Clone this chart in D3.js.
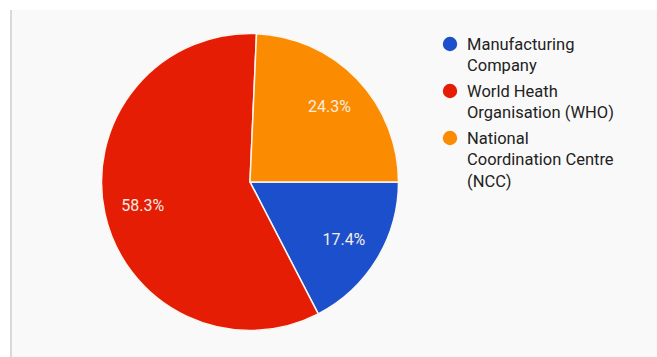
<!DOCTYPE html>
<html>
<head>
<meta charset="utf-8">
<script src="https://cdn.jsdelivr.net/npm/d3@7"></script>
<style>
  html, body { margin: 0; padding: 0; background: #ffffff; }
  svg { display: block; font-family: Roboto, "Noto Sans", Arial, sans-serif; }
</style>
</head>
<body>
<svg id="chart" width="657" height="357"></svg>
<script>
// Share of responsibility by organisation (percent)
const categories = [
  ["Manufacturing", "Company"],
  ["World Heath", "Organisation (WHO)"],
  ["National", "Coordination Centre", "(NCC)"]
];
const values = [17.4, 58.3, 24.3];
const colors = ["#1b4fcb", "#e41d04", "#fb8b00"];

const W = 657, H = 357;
const svg = d3.select("#chart");

// panel background with a thin left rule
svg.append("rect").attr("x", 11).attr("y", 10).attr("width", W - 11).attr("height", H - 10)
  .attr("fill", "#f9f9f9");
svg.append("rect").attr("x", 10).attr("y", 10).attr("width", 2).attr("height", H - 10)
  .attr("fill", "#d9d9d9");

const cx = 250, cy = 182, r = 148.5;
const g = svg.append("g").attr("transform", `translate(${cx},${cy})`);

// slices start at 3 o'clock and run clockwise in data order
const pie = d3.pie().sort(null).value(d => d)
  .startAngle(Math.PI / 2).endAngle(Math.PI / 2 + 2 * Math.PI);
const arcs = pie(values);

const arc = d3.arc().innerRadius(0).outerRadius(r);
const labelArc = d3.arc().innerRadius(r * 0.74).outerRadius(r * 0.74);

g.selectAll("path.slice").data(arcs).join("path")
  .attr("class", "slice")
  .attr("d", arc)
  .attr("fill", (d, i) => colors[i])
  .attr("stroke", "#fbf6ee")
  .attr("stroke-width", 1.5);

g.selectAll("text.pct").data(arcs).join("text")
  .attr("class", "pct")
  .attr("transform", d => `translate(${labelArc.centroid(d)})`)
  .attr("text-anchor", "middle")
  .attr("dy", "0.36em")
  .attr("font-size", 16)
  .attr("fill", "#f7ece0")
  .text(d => d.value.toFixed(1) + "%");

// legend
const legendX = 450, lineH = 21.3;
const groupTops = [44, 91, 138];
const legend = svg.append("g");
categories.forEach((lines, i) => {
  const y = groupTops[i];
  legend.append("circle").attr("cx", legendX).attr("cy", y).attr("r", 7.2)
    .attr("fill", colors[i]);
  const t = legend.append("text")
    .attr("x", legendX + 17)
    .attr("y", y + 6)
    .attr("font-size", 16.5)
    .attr("fill", "#222222");
  lines.forEach((ln, j) => {
    t.append("tspan").attr("x", legendX + 17).attr("y", y + 6 + j * lineH).text(ln);
  });
});
</script>
</body>
</html>
